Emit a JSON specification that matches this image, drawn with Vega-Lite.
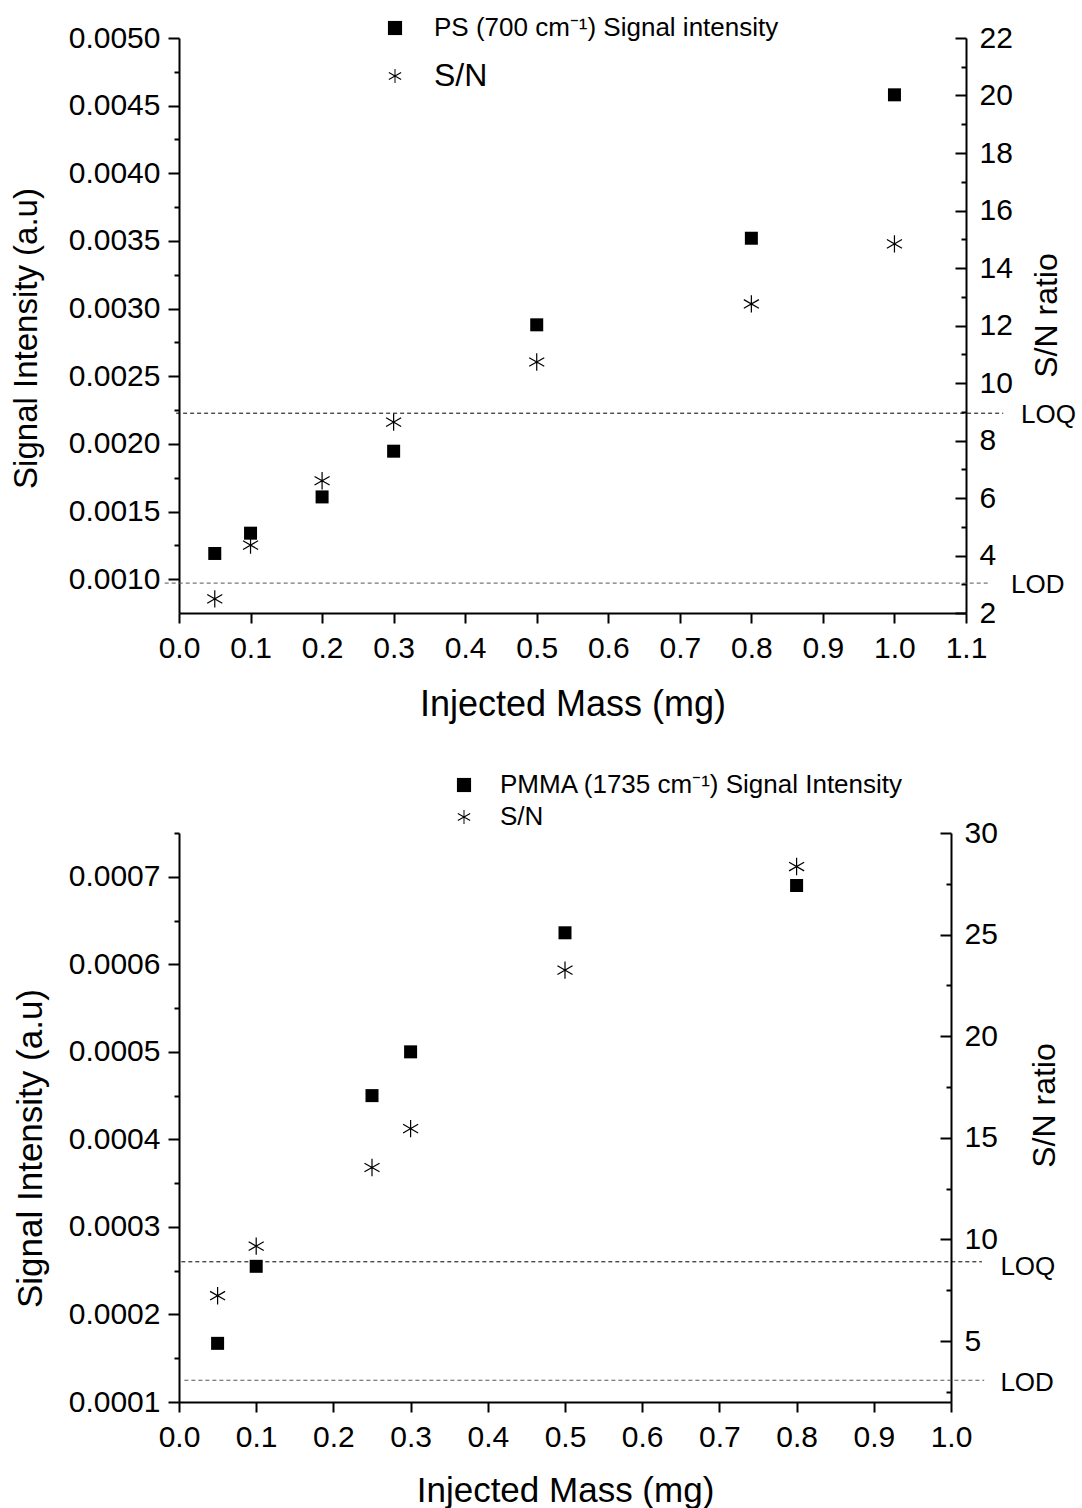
{
  "$schema": "https://vega.github.io/schema/vega-lite/v6.json",
  "padding": {"left": 10, "top": 15, "right": 5, "bottom": 0},
  "background": "white",
  "config": {
    "view": {"stroke": null},
    "font": "Liberation Sans",
    "legend": {"symbolFillColor": "black", "symbolStrokeColor": "black", "symbolStrokeWidth": 0, "symbolOpacity": 1},
    "axis": {"grid": false, "domainColor": "black", "domainWidth": 2, "tickColor": "black", "tickWidth": 2, "labelColor": "black", "titleColor": "black", "titleFontWeight": "normal", "labelFontSize": 30, "labelFlush": false, "labelOverlap": false, "labelBound": false}
  },
  "vconcat": [
    {
      "width": 787,
      "height": 575,
      "data": {"values": [
        {"mass": 0.05, "sig": 0.00119, "sn": 2.49},
        {"mass": 0.1, "sig": 0.00134, "sn": 4.36},
        {"mass": 0.2, "sig": 0.001608, "sn": 6.6},
        {"mass": 0.3, "sig": 0.001946, "sn": 8.64},
        {"mass": 0.5, "sig": 0.00288, "sn": 10.73},
        {"mass": 0.8, "sig": 0.00352, "sn": 12.75},
        {"mass": 1.0, "sig": 0.00458, "sn": 14.84}
      ]},
      "layer": [
        {
          "mark": {"type": "point", "filled": true, "fill": "black", "strokeWidth": 0, "opacity": 1, "size": 300},
          "encoding": {
            "x": {"field": "mass", "type": "quantitative",
              "scale": {"domain": [0, 1.1], "nice": false, "zero": false},
              "axis": {"title": "Injected Mass (mg)", "titleFontSize": 36, "titlePadding": 24, "labelPadding": 10,
                "values": [0,0.05,0.1,0.15,0.2,0.25,0.3,0.35,0.4,0.45,0.5,0.55,0.6,0.65,0.7,0.75,0.8,0.85,0.9,0.95,1,1.05,1.1],
                "labelExpr": "abs(datum.value*10 - round(datum.value*10)) < 0.000001 ? format(datum.value, '.1f') : ''",
                "tickSize": {"expr": "abs(datum.value*10 - round(datum.value*10)) < 0.000001 ? 10 : 5"}}},
            "y": {"field": "sn", "type": "quantitative",
              "scale": {"domain": [2, 22], "nice": false, "zero": false},
              "axis": {"orient": "right", "title": "S/N ratio", "titleFontSize": 32, "titleAngle": 270, "titleBaseline": "top", "titlePadding": 19, "titleY": 277, "labelPadding": 24,
                "values": [2,3,4,5,6,7,8,9,10,11,12,13,14,15,16,17,18,19,20,21,22],
                "labelExpr": "datum.value % 2 == 0 ? format(datum.value, 'd') : ''",
                "tickSize": {"expr": "datum.value % 2 == 0 ? -11 : -5"}}},
            "shape": {"datum": "S/N",
              "scale": {"domain": ["PS (700 cm⁻¹) Signal intensity", "S/N"], "range": ["square", "M-0.07,-1L0.07,-1L0.07,1L-0.07,1ZM-0.905,-0.439L-0.835,-0.561L0.905,0.439L0.835,0.561ZM-0.835,0.561L-0.905,0.439L0.835,-0.561L0.905,-0.439Z"]},
              "legend": {"orient": "none", "legendX": 203, "legendY": -23, "title": null, "padding": 0, "labelFontSize": {"expr": "datum.label == 'S/N' ? 32 : 26"}, "labelOffset": 26, "rowPadding": 19, "symbolSize": 200, "labelLimit": 0, "labelColor": "black", "labelFont": "Liberation Sans"}}
          }
        },
        {
          "mark": {"type": "point", "filled": true, "fill": "black", "strokeWidth": 0, "opacity": 1, "size": 169},
          "encoding": {
            "x": {"field": "mass", "type": "quantitative"},
            "y": {"field": "sig", "type": "quantitative",
              "scale": {"domain": [0.00075, 0.005], "nice": false, "zero": false},
              "axis": {"orient": "left", "title": "Signal Intensity (a.u)", "titleFontSize": 33, "titlePadding": 25, "titleY": 300, "labelPadding": 8,
                "values": [0.001,0.00125,0.0015,0.00175,0.002,0.00225,0.0025,0.00275,0.003,0.00325,0.0035,0.00375,0.004,0.00425,0.0045,0.00475,0.005],
                "labelExpr": "abs(datum.value*2000 - round(datum.value*2000)) < 0.000001 ? format(datum.value, '.4f') : ''",
                "tickSize": {"expr": "abs(datum.value*2000 - round(datum.value*2000)) < 0.000001 ? 11 : 5"}}},
            "shape": {"datum": "PS (700 cm⁻¹) Signal intensity"}
          }
        },
        {
          "data": {"values": [{"lim": "LOQ", "sn": 8.95}, {"lim": "LOD", "sn": 3.04}]},
          "transform": [{"filter": "datum.lim == 'LOQ'"}],
          "layer": [
            {
              "mark": {"type": "rule", "color": "black", "strokeWidth": 1, "strokeDash": [4, 3]},
              "encoding": {
                "x": {"datum": -0.004}, "x2": {"datum": 1.152},
                "y": {"field": "sn", "type": "quantitative", "scale": {"domain": [2, 22], "nice": false, "zero": false}, "axis": null}
              }
            },
            {
              "mark": {"type": "text", "align": "left", "baseline": "middle", "fontSize": 26, "color": "black", "dy": 2},
              "encoding": {
                "x": {"datum": 1.177},
                "y": {"field": "sn", "type": "quantitative", "scale": {"domain": [2, 22], "nice": false, "zero": false}, "axis": null},
                "text": {"field": "lim"}
              }
            }
          ]
        },
        {
          "data": {"values": [{"lim": "LOQ", "sn": 8.95}, {"lim": "LOD", "sn": 3.04}]},
          "transform": [{"filter": "datum.lim == 'LOD'"}],
          "layer": [
            {
              "mark": {"type": "rule", "color": "#555555", "strokeWidth": 1, "strokeDash": [4, 3]},
              "encoding": {
                "x": {"datum": -0.02}, "x2": {"datum": 1.133},
                "y": {"field": "sn", "type": "quantitative", "scale": {"domain": [2, 22], "nice": false, "zero": false}, "axis": null}
              }
            },
            {
              "mark": {"type": "text", "align": "left", "baseline": "middle", "fontSize": 26, "color": "black", "dy": 2},
              "encoding": {
                "x": {"datum": 1.163},
                "y": {"field": "sn", "type": "quantitative", "scale": {"domain": [2, 22], "nice": false, "zero": false}, "axis": null},
                "text": {"field": "lim"}
              }
            }
          ]
        }
      ],
      "resolve": {"scale": {"y": "independent"}}
    },
    {
      "width": 772,
      "height": 569,
      "data": {"values": [
        {"mass": 0.05, "sig": 0.000167, "sn": 7.23},
        {"mass": 0.1, "sig": 0.000255, "sn": 9.67},
        {"mass": 0.25, "sig": 0.00045, "sn": 13.54},
        {"mass": 0.3, "sig": 0.0005, "sn": 15.45},
        {"mass": 0.5, "sig": 0.000636, "sn": 23.25},
        {"mass": 0.8, "sig": 0.00069, "sn": 28.35}
      ]},
      "layer": [
        {
          "mark": {"type": "point", "filled": true, "fill": "black", "strokeWidth": 0, "opacity": 1, "size": 300},
          "encoding": {
            "x": {"field": "mass", "type": "quantitative",
              "scale": {"domain": [0, 1.0], "nice": false, "zero": false},
              "axis": {"title": "Injected Mass (mg)", "titleFontSize": 35, "titlePadding": 21, "labelPadding": 10,
                "values": [0,0.05,0.1,0.15,0.2,0.25,0.3,0.35,0.4,0.45,0.5,0.55,0.6,0.65,0.7,0.75,0.8,0.85,0.9,0.95,1],
                "labelExpr": "abs(datum.value*10 - round(datum.value*10)) < 0.000001 ? format(datum.value, '.1f') : ''",
                "tickSize": {"expr": "abs(datum.value*10 - round(datum.value*10)) < 0.000001 ? 10 : 5"}}},
            "y": {"field": "sn", "type": "quantitative",
              "scale": {"domain": [2, 30], "nice": false, "zero": false},
              "axis": {"orient": "right", "title": "S/N ratio", "titleFontSize": 32, "titleAngle": 270, "titleBaseline": "top", "titlePadding": 32, "titleY": 272, "labelPadding": 24,
                "values": [2.5,5,7.5,10,12.5,15,17.5,20,22.5,25,27.5,30],
                "labelExpr": "datum.value % 5 == 0 ? format(datum.value, 'd') : ''",
                "tickSize": {"expr": "datum.value % 5 == 0 ? -11 : -5"}}},
            "shape": {"datum": "S/N",
              "scale": {"domain": ["PMMA (1735 cm⁻¹) Signal Intensity", "S/N"], "range": ["square", "M-0.07,-1L0.07,-1L0.07,1L-0.07,1ZM-0.905,-0.439L-0.835,-0.561L0.905,0.439L0.835,0.561ZM-0.835,0.561L-0.905,0.439L0.835,-0.561L0.905,-0.439Z"]},
              "legend": {"orient": "none", "legendX": 272, "legendY": -61, "title": null, "padding": 0, "labelFontSize": 26, "labelOffset": 23, "rowPadding": 6, "symbolSize": 200, "labelLimit": 0, "labelColor": "black", "labelFont": "Liberation Sans"}}
          }
        },
        {
          "mark": {"type": "point", "filled": true, "fill": "black", "strokeWidth": 0, "opacity": 1, "size": 169},
          "encoding": {
            "x": {"field": "mass", "type": "quantitative"},
            "y": {"field": "sig", "type": "quantitative",
              "scale": {"domain": [0.0001, 0.00075], "nice": false, "zero": false},
              "axis": {"orient": "left", "title": "Signal Intensity (a.u)", "titleFontSize": 35, "titlePadding": 20, "titleY": 315, "labelPadding": 8,
                "values": [0.0001,0.00015,0.0002,0.00025,0.0003,0.00035,0.0004,0.00045,0.0005,0.00055,0.0006,0.00065,0.0007,0.00075],
                "labelExpr": "abs(datum.value*10000 - round(datum.value*10000)) < 0.000001 ? format(datum.value, '.4f') : ''",
                "tickSize": {"expr": "abs(datum.value*10000 - round(datum.value*10000)) < 0.000001 ? 11 : 5"}}},
            "shape": {"datum": "PMMA (1735 cm⁻¹) Signal Intensity"}
          }
        },
        {
          "data": {"values": [{"lim": "LOQ", "sn": 8.9}, {"lim": "LOD", "sn": 3.07}]},
          "transform": [{"filter": "datum.lim == 'LOQ'"}],
          "layer": [
            {
              "mark": {"type": "rule", "color": "black", "strokeWidth": 1, "strokeDash": [4, 3]},
              "encoding": {
                "x": {"datum": 0.003}, "x2": {"datum": 1.04},
                "y": {"field": "sn", "type": "quantitative", "scale": {"domain": [2, 30], "nice": false, "zero": false}, "axis": null}
              }
            },
            {
              "mark": {"type": "text", "align": "left", "baseline": "middle", "fontSize": 26, "color": "black", "dy": 5},
              "encoding": {
                "x": {"datum": 1.064},
                "y": {"field": "sn", "type": "quantitative", "scale": {"domain": [2, 30], "nice": false, "zero": false}, "axis": null},
                "text": {"field": "lim"}
              }
            }
          ]
        },
        {
          "data": {"values": [{"lim": "LOQ", "sn": 8.9}, {"lim": "LOD", "sn": 3.07}]},
          "transform": [{"filter": "datum.lim == 'LOD'"}],
          "layer": [
            {
              "mark": {"type": "rule", "color": "#555555", "strokeWidth": 1, "strokeDash": [4, 3]},
              "encoding": {
                "x": {"datum": 0.007}, "x2": {"datum": 1.043},
                "y": {"field": "sn", "type": "quantitative", "scale": {"domain": [2, 30], "nice": false, "zero": false}, "axis": null}
              }
            },
            {
              "mark": {"type": "text", "align": "left", "baseline": "middle", "fontSize": 26, "color": "black", "dy": 3},
              "encoding": {
                "x": {"datum": 1.064},
                "y": {"field": "sn", "type": "quantitative", "scale": {"domain": [2, 30], "nice": false, "zero": false}, "axis": null},
                "text": {"field": "lim"}
              }
            }
          ]
        }
      ],
      "resolve": {"scale": {"y": "independent"}}
    }
  ],
  "spacing": 220,
  "bounds": "flush",
  "resolve": {"scale": {"shape": "independent"}, "legend": {"shape": "independent"}}
}
